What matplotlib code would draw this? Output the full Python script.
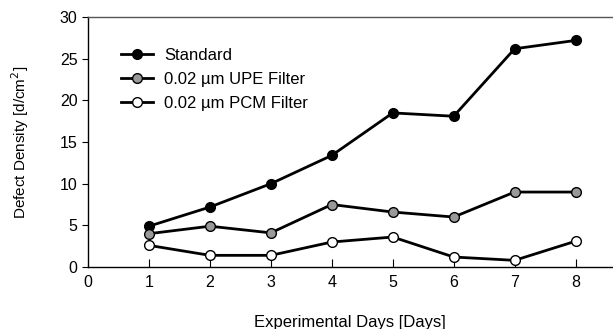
import matplotlib
matplotlib.use('Agg')
import matplotlib.pyplot as plt

plt.rcParams['font.family'] = ['Liberation Sans', 'DejaVu Sans']

# ── Data ──────────────────────────────────────────────────────────────────────
days = [1, 2, 3, 4, 5, 6, 7, 8]
standard = [4.9, 7.2, 10.0, 13.4, 18.5, 18.1, 26.2, 27.2]
upe = [4.0, 4.9, 4.1, 7.5, 6.6, 6.0, 9.0, 9.0]
pcm = [2.6, 1.4, 1.4, 3.0, 3.6, 1.2, 0.8, 3.1]
labels = ['Standard', '0.02 \u00b5m UPE Filter', '0.02 \u00b5m PCM Filter']
xticks = [0, 1, 2, 3, 4, 5, 6, 7, 8]
yticks = [0, 5, 10, 15, 20, 25, 30]

fig = plt.figure(figsize=(6.13, 3.29), dpi=100)
ax = fig.add_axes([0.1436, 0.1884, 0.855, 0.7596])

style = dict(color='black', lw=2.0, marker='o', markersize=7,
             markeredgecolor='black', markeredgewidth=1.0, clip_on=False)
ax.plot(days, standard, markerfacecolor='black', label=labels[0], **style)
ax.plot(days, upe, markerfacecolor='#999999', label=labels[1], **style)
ax.plot(days, pcm, markerfacecolor='white', label=labels[2], **style)

ax.set_xlim(0, 8.6)
ax.set_ylim(0, 30)
ax.set_xticks(xticks)
ax.set_yticks(yticks)
ax.tick_params(axis='x', direction='in', length=6, width=0.8, labelsize=11.5, pad=6)
ax.tick_params(axis='y', direction='out', length=4.5, width=0.8, labelsize=11.5, pad=3)
ax.xaxis.get_major_ticks()[0].tick1line.set_visible(False)

ax.spines['right'].set_visible(False)
ax.spines['top'].set_color('#555555')
for s in ['left', 'bottom', 'top']:
    ax.spines[s].set_linewidth(1.0)

ax.set_xlabel('Experimental Days [Days]', fontsize=12, labelpad=18)
ax.set_ylabel('Defect Density [d/cm$^2$]', fontsize=11, labelpad=21)

ax.legend(loc='upper left', bbox_to_anchor=(0.05, 0.905), frameon=False,
          fontsize=12, handlelength=1.9, handletextpad=0.7, labelspacing=0.55,
          borderaxespad=0)

fig.savefig('out.png', dpi=100)
